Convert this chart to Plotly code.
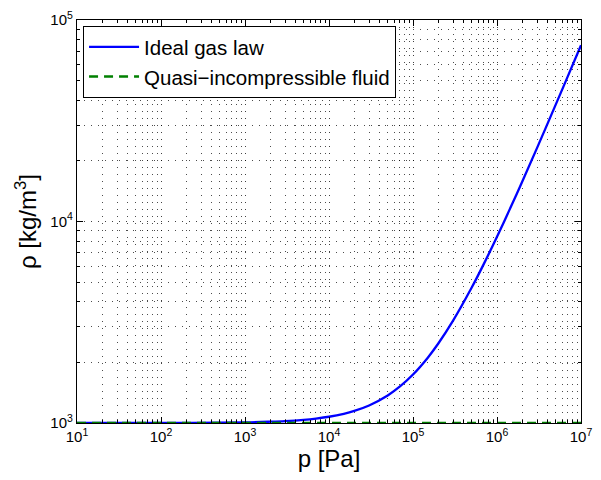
import plotly.graph_objects as go

# Data
p_values = [10, 100, 1000, 2000, 3000, 5000, 7000, 1e4, 1.5e4, 2e4, 3e4, 5e4, 7e4,
            1e5, 1.5e5, 2e5, 3e5, 5e5, 7e5, 1e6, 1.5e6, 2e6, 3e6, 5e6, 7e6, 1e7]
rho_ideal = [1000.07, 1000.7, 1007, 1015, 1022, 1037, 1052, 1074, 1111, 1148, 1222, 1370, 1518,
             1740, 2110, 2480, 3220, 4700, 6180, 8400, 12100, 15800, 23200, 38000, 52800, 75000]
p_quasi = [10, 100, 1000, 1e4, 1e5, 1e6, 1e7]
rho_quasi = [1000, 1000, 1000, 1000, 1000, 1000, 1000]

series_names = ["Ideal gas law", "Quasi\u2212incompressible fluid"]

x_exponents = [1, 2, 3, 4, 5, 6, 7]
y_exponents = [3, 4, 5]

def decade_ticks(exps):
    vals = [10 ** e for e in exps]
    text = ["10<sup>%d</sup>" % e for e in exps]
    minor = [m * 10 ** e for e in exps[:-1] for m in range(2, 10)]
    return vals, text, minor

xv, xt, xm = decade_ticks(x_exponents)
yv, yt, ym = decade_ticks(y_exponents)

fig = go.Figure()
fig.add_trace(go.Scatter(x=p_values, y=rho_ideal, mode="lines", name=series_names[0],
                         line=dict(color="rgb(0,0,255)", width=2.3, shape="spline")))
fig.add_trace(go.Scatter(x=p_quasi, y=rho_quasi, mode="lines", name=series_names[1],
                         line=dict(color="rgb(0,128,0)", width=2.3, dash="9px,6px")))

FONT = "Liberation Sans, Arial"

def axis_common(vals, text, minor_vals):
    return dict(
        type="log", showline=True, linecolor="black", linewidth=1.3, mirror="ticks",
        ticks="inside", ticklen=6, tickcolor="black",
        tickmode="array", tickvals=vals, ticktext=text, ticklabeloverflow="allow",
        tickfont=dict(family=FONT, size=15, color="black"),
        zeroline=False,
        showgrid=True, gridcolor="rgba(0,0,0,0.75)", gridwidth=1, griddash="1px,6px",
        minor=dict(tickmode="array", tickvals=minor_vals, ticks="inside", ticklen=3,
                   tickcolor="black", showgrid=True,
                   gridcolor="rgba(0,0,0,0.7)", gridwidth=1, griddash="1px,6px"),
    )

fig.update_xaxes(range=[1, 7],
                 title=dict(text="p [Pa]", font=dict(family=FONT, size=24, color="black"),
                            standoff=4),
                 **axis_common(xv, xt, xm))
fig.update_yaxes(range=[3, 5],
                 title=dict(text="\u03c1 [kg/m<sup>3</sup>]", font=dict(family=FONT, size=24, color="black"),
                            standoff=6),
                 **axis_common(yv, yt, ym))

fig.update_layout(
    width=601, height=480,
    margin=dict(l=77, r=9, t=16, b=57),
    paper_bgcolor="white", plot_bgcolor="white",
    showlegend=True,
    legend=dict(x=0.012, y=0.985, xanchor="left", yanchor="top",
                bgcolor="white", bordercolor="black", borderwidth=1,
                font=dict(family=FONT, size=20.5, color="black"),
                itemwidth=50, tracegroupgap=0),
)

fig.write_html("out.html")
